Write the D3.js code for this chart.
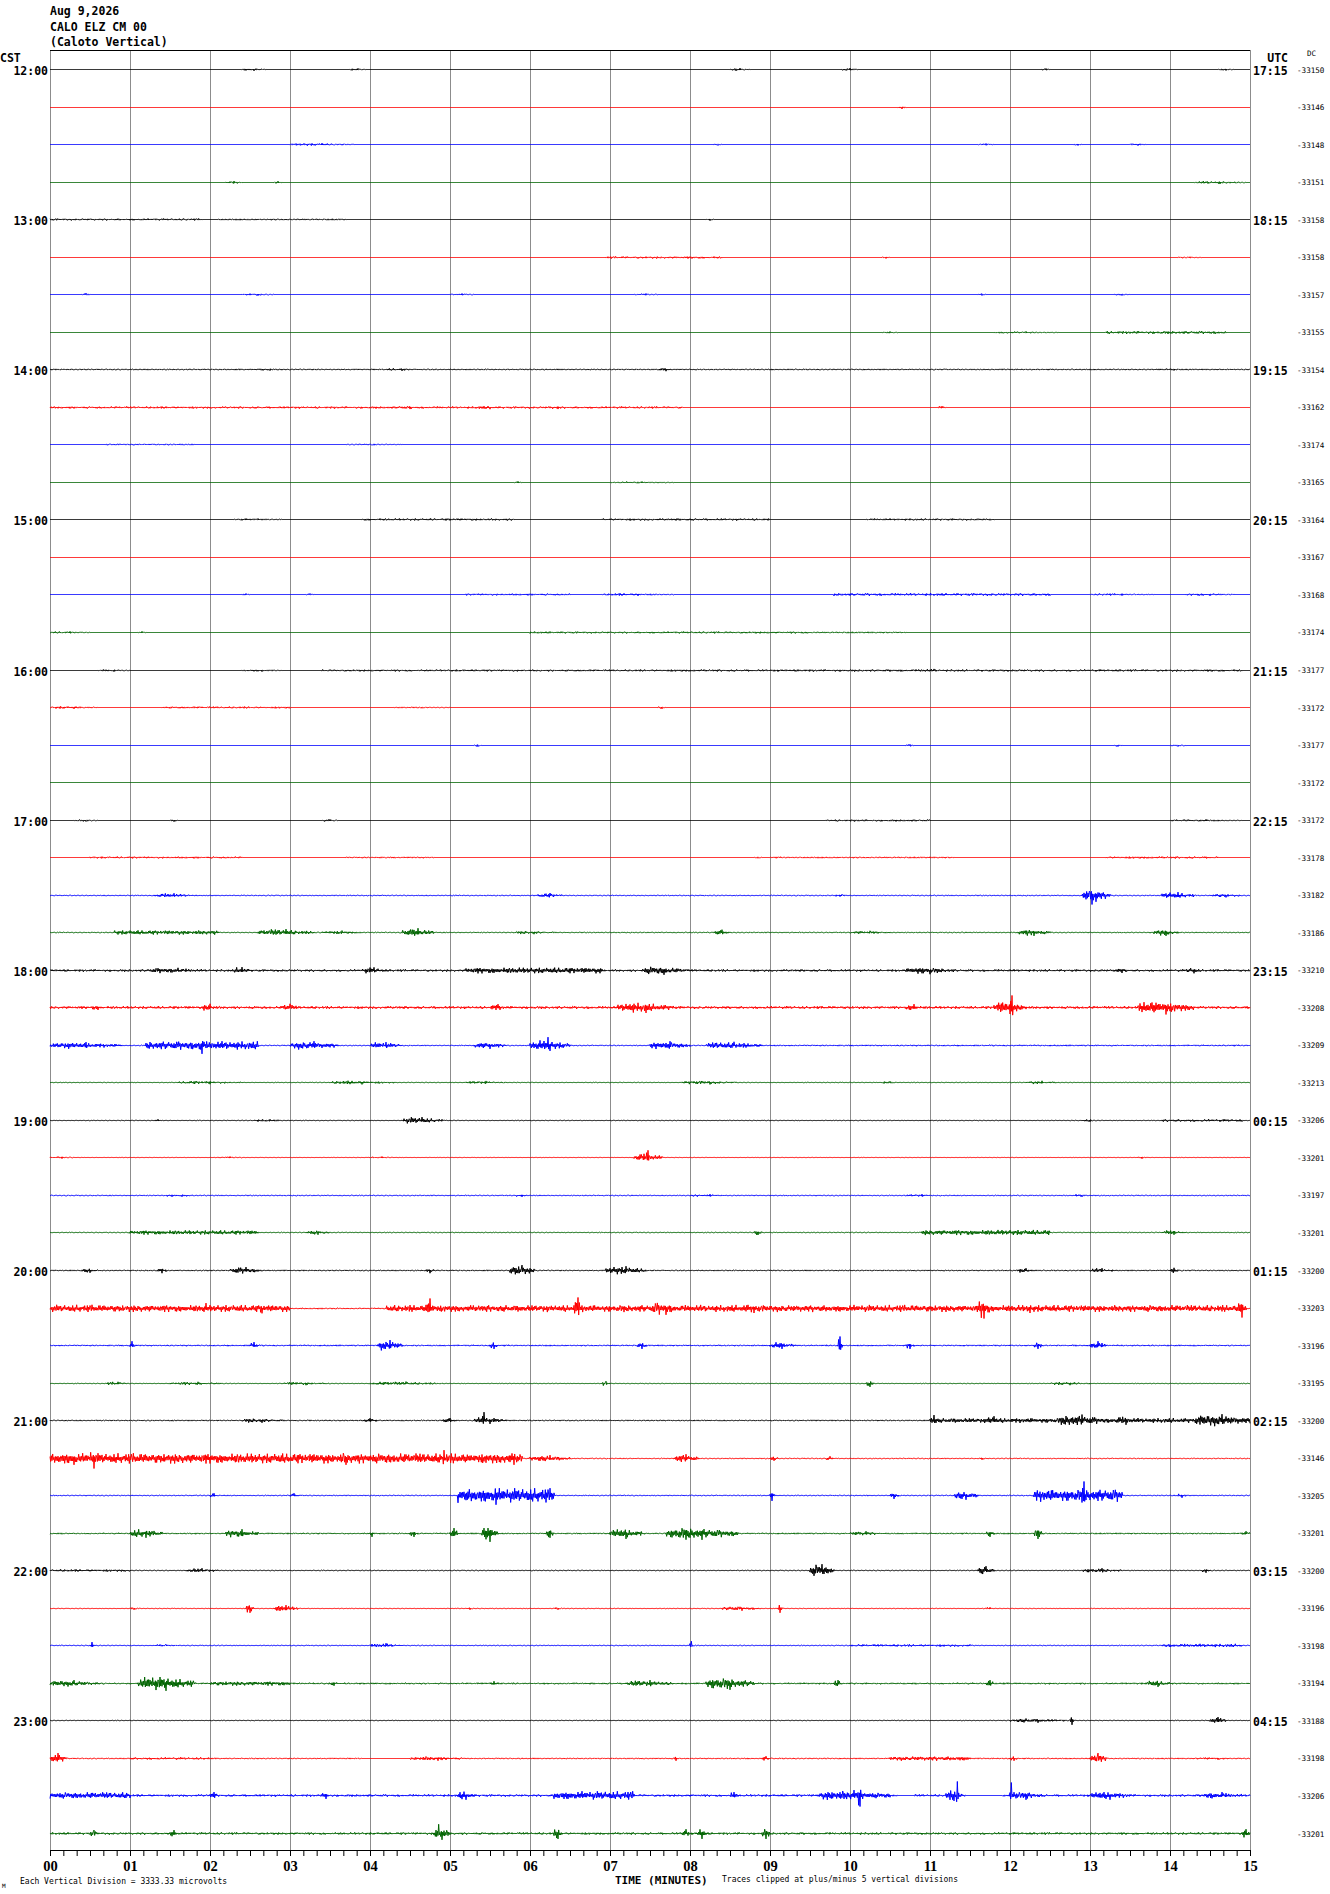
<!DOCTYPE html>
<html>
<head>
<meta charset="utf-8">
<script src="https://cdn.jsdelivr.net/npm/d3@7"></script>
<style>
body { margin: 0; background: #fff; }
text { fill: #000; }
</style>
</head>
<body>
<div class="chart"></div>
<script>
// header text
const titleLines = ['Aug 9,2026', 'CALO ELZ CM 00', '(Caloto Vertical)'];

// hour labels, one for every 4 traces
const cstLabels = ['12:00', '13:00', '14:00', '15:00', '16:00', '17:00',
    '18:00', '19:00', '20:00', '21:00', '22:00', '23:00'];
const utcLabels = ['17:15', '18:15', '19:15', '20:15', '21:15', '22:15',
    '23:15', '00:15', '01:15', '02:15', '03:15', '04:15'];

// minutes along the bottom
const minuteTicks = d3.range(0, 16);

// dc offset printed at the right of each trace
const dcValues = [
    -33150, -33146, -33148, -33151, -33158, -33158, -33157, -33155,
    -33154, -33162, -33174, -33165, -33164, -33167, -33168, -33174,
    -33177, -33172, -33177, -33172, -33172, -33178, -33182, -33186,
    -33210, -33208, -33209, -33213, -33206, -33201, -33197, -33201,
    -33200, -33203, -33196, -33195, -33200, -33146, -33205, -33201,
    -33200, -33196, -33198, -33194, -33188, -33198, -33206, -33201];

// background noise of each trace (microvolts)
const noiseLevel = [
    0, 0, 0, 0, 0, 0, 0, 0,
    60, 0, 0, 0, 0, 0, 0, 0,
    0, 0, 0, 0, 0, 0, 50, 50,
    110, 130, 50, 30, 30, 20, 50, 40,
    60, 70, 70, 30, 60, 50, 50, 70,
    40, 30, 40, 80, 30, 60, 110, 110];

// bursts on each trace: [start minute, end minute, peak microvolts]
const bursts = [
    [[2.4, 2.7, 120], [3.75, 3.95, 100], [8.5, 8.75, 120], [9.9, 10.1, 120], [12.4, 12.5, 90], [14.6, 14.8, 90]],
    [[10.6, 10.7, 130]],
    [[3.0, 3.8, 120], [8.3, 8.4, 90], [11.6, 11.8, 90], [12.8, 12.9, 90], [13.5, 13.7, 100]],
    [[2.2, 2.4, 130], [2.8, 2.9, 120], [14.3, 14.95, 130]],
    [[0, 1.9, 90], [2.1, 3.7, 70], [8.2, 8.3, 100]],
    [[6.95, 8.4, 100], [10.4, 10.5, 90], [14.1, 14.4, 70]],
    [[0.4, 0.5, 120], [2.4, 2.8, 100], [5.0, 5.3, 90], [7.3, 7.6, 90], [11.6, 11.7, 90], [13.3, 13.5, 90]],
    [[10.4, 10.6, 90], [11.8, 12.6, 100], [13.2, 14.7, 130]],
    [[2.5, 3.0, 100], [4.2, 4.6, 120], [7.6, 7.8, 150], [13.8, 14.3, 90]],
    [[0, 7.9, 100], [4.3, 4.7, 140], [5.3, 5.7, 150], [6.2, 6.5, 140], [11.1, 11.2, 120]],
    [[0.7, 1.8, 70], [3.7, 4.4, 70]],
    [[5.8, 5.9, 100], [7.0, 7.8, 90]],
    [[2.3, 2.9, 90], [3.9, 5.8, 100], [6.9, 9.0, 100], [10.2, 11.8, 90]],
    [],
    [[2.4, 2.5, 90], [3.2, 3.3, 90], [5.2, 6.5, 90], [6.9, 7.8, 120], [9.8, 12.5, 120], [13.0, 13.8, 100], [14.2, 14.8, 120]],
    [[0, 0.5, 100], [1.1, 1.2, 100], [6.0, 9.5, 90], [9.0, 10.7, 70]],
    [[0.6, 1.0, 100], [2.4, 2.9, 100], [3.4, 7.5, 90], [7.5, 14.9, 100], [10.8, 11.3, 140]],
    [[0, 0.6, 120], [1.4, 3.0, 90], [4.3, 5.0, 70], [7.6, 7.7, 120]],
    [[5.3, 5.4, 100], [10.7, 10.8, 100], [13.3, 13.4, 90], [14.0, 14.2, 90]],
    [],
    [[0.3, 0.6, 90], [1.5, 1.6, 100], [3.4, 3.6, 100], [9.7, 11.0, 90], [14.0, 14.9, 100]],
    [[0.5, 2.4, 90], [3.7, 4.8, 70], [8.8, 8.9, 70], [9.0, 11.3, 70], [13.2, 14.6, 100]],
    [[1.3, 1.8, 200], [6.1, 6.4, 220], [9.8, 10.0, 110], [12.9, 13.25, 560], [13.0, 13.05, 800], [13.9, 14.3, 300], [14.5, 14.9, 170]],
    [[0.8, 2.1, 200], [2.6, 3.3, 300], [3.4, 3.9, 170], [4.4, 4.8, 380], [5.8, 6.3, 150], [8.3, 8.5, 250], [10.0, 10.5, 150], [12.1, 12.5, 300], [13.8, 14.1, 300]],
    [[1.2, 2.0, 240], [2.3, 2.5, 300], [3.9, 4.2, 280], [5.2, 6.9, 270], [7.4, 7.95, 380], [10.7, 11.3, 330], [13.3, 13.5, 220], [14.2, 14.4, 250]],
    [[0.5, 0.7, 220], [1.9, 2.1, 330], [2.9, 3.1, 330], [5.5, 5.7, 300], [7.1, 7.8, 480], [10.7, 10.9, 300], [11.8, 12.2, 580], [12.0, 12.05, 1070], [13.6, 14.3, 620]],
    [[0, 0.9, 300], [1.2, 2.6, 380], [1.85, 1.95, 740], [3.0, 3.6, 380], [4.0, 4.4, 300], [5.3, 5.7, 300], [6.0, 6.5, 480], [6.2, 6.25, 740], [7.5, 8.0, 380], [8.2, 8.9, 330], [9.0, 15, 70]],
    [[1.6, 2.4, 150], [3.5, 4.3, 170], [5.2, 5.7, 140], [7.9, 8.6, 170], [10.4, 10.6, 110], [12.2, 12.6, 150]],
    [[1.3, 1.4, 110], [2.5, 3.0, 110], [4.4, 4.9, 300], [12.9, 13.1, 110], [13.9, 14.9, 120]],
    [[0, 0.3, 100], [2.1, 2.4, 90], [4.0, 4.3, 90], [7.3, 7.65, 380], [7.45, 7.5, 640], [13.6, 13.7, 110]],
    [[1.4, 1.9, 110], [5.8, 6.0, 120], [8.0, 8.5, 120], [10.7, 11.1, 120], [12.8, 13.0, 120]],
    [[1.0, 2.6, 200], [3.2, 3.5, 200], [8.8, 8.9, 220], [10.9, 12.5, 240], [13.9, 14.2, 200]],
    [[0.4, 0.6, 200], [1.35, 1.45, 240], [2.25, 2.65, 300], [4.7, 4.8, 240], [5.75, 6.05, 480], [6.95, 7.45, 380], [12.1, 12.3, 200], [13.0, 13.3, 200], [14.0, 14.1, 240]],
    [[0, 3.0, 330], [1.9, 2.0, 480], [2.6, 2.7, 430], [4.2, 14.95, 320], [4.7, 4.8, 890], [6.55, 6.65, 980], [7.5, 7.9, 560], [8.6, 9.0, 400], [11.6, 11.75, 890], [12.2, 12.3, 400], [14.85, 14.95, 800]],
    [[1.0, 1.05, 380], [2.5, 2.6, 300], [4.1, 4.4, 480], [5.5, 5.6, 300], [7.35, 7.45, 300], [9.0, 9.3, 300], [9.85, 9.9, 800], [10.7, 10.8, 300], [12.3, 12.4, 300], [13.0, 13.2, 380]],
    [[0.7, 1.0, 150], [1.5, 2.2, 150], [2.9, 3.5, 150], [4.0, 4.9, 170], [6.9, 7.0, 200], [10.2, 10.3, 300], [12.5, 13.0, 150]],
    [[2.4, 2.9, 200], [3.9, 4.1, 200], [4.9, 5.1, 220], [5.3, 5.7, 300], [5.4, 5.45, 740], [11.0, 15.0, 220], [11.0, 11.1, 480], [11.7, 11.9, 380], [12.6, 13.2, 530], [13.3, 13.6, 380], [14.3, 15.0, 560]],
    [[0, 5.9, 470], [0, 0.6, 560], [0.5, 0.6, 890], [3.6, 3.8, 560], [4.9, 4.95, 740], [5.7, 5.9, 560], [6.0, 6.5, 300], [7.8, 8.1, 380], [9.0, 9.1, 200], [9.7, 9.8, 200], [11.6, 11.7, 110]],
    [[2.0, 2.1, 200], [3.0, 3.1, 200], [5.1, 6.3, 650], [5.55, 5.6, 820], [9.0, 9.05, 480], [10.5, 10.6, 300], [11.3, 11.6, 380], [12.3, 13.4, 560], [12.9, 12.95, 1245], [14.1, 14.2, 200]],
    [[1.0, 1.4, 380], [2.2, 2.6, 380], [4.0, 4.05, 300], [4.5, 4.6, 300], [5.0, 5.1, 480], [5.4, 5.6, 740], [6.2, 6.3, 380], [7.0, 7.4, 480], [7.7, 8.6, 560], [10.0, 10.4, 200], [11.7, 11.8, 300], [12.3, 12.4, 480], [14.9, 15.0, 200]],
    [[0, 1.0, 110], [1.7, 2.1, 200], [9.5, 9.8, 560], [11.6, 11.8, 380], [12.9, 13.4, 200], [14.4, 14.5, 200]],
    [[1.0, 1.1, 110], [2.45, 2.55, 380], [2.8, 3.1, 300], [5.2, 5.3, 110], [6.3, 6.4, 110], [8.4, 8.9, 200], [9.1, 9.15, 380], [11.7, 11.8, 110]],
    [[0.5, 0.55, 300], [1.3, 1.6, 110], [4.0, 4.4, 200], [8.0, 8.03, 380], [10.0, 11.5, 110], [13.9, 14.9, 150]],
    [[0, 0.6, 300], [1.1, 1.8, 650], [2.0, 3.0, 200], [3.5, 3.6, 200], [5.5, 5.6, 200], [7.2, 7.8, 300], [8.2, 8.8, 560], [9.8, 9.9, 300], [11.7, 11.8, 300], [13.7, 14.0, 300]],
    [[12.0, 12.7, 200], [12.75, 12.8, 380], [14.5, 14.7, 300]],
    [[0, 0.2, 480], [1.0, 2.0, 110], [4.5, 5.2, 200], [7.8, 7.85, 200], [8.9, 9.0, 200], [10.5, 11.5, 200], [12.0, 12.1, 200], [13.0, 13.2, 480], [14.3, 14.9, 110]],
    [[0, 1.0, 300], [2.0, 2.1, 300], [3.4, 3.5, 300], [5.1, 5.3, 380], [6.3, 7.3, 380], [8.5, 8.6, 300], [9.6, 10.5, 480], [10.1, 10.15, 980], [11.2, 11.4, 480], [11.33, 11.36, 1245], [12.0, 12.03, 1150], [12.0, 12.4, 380], [13.0, 13.5, 380], [14.4, 14.9, 300]],
    [[0.5, 0.6, 300], [1.5, 1.6, 300], [4.8, 5.0, 560], [4.84, 4.88, 820], [6.3, 6.4, 480], [7.9, 8.0, 380], [8.1, 8.2, 480], [8.9, 9.0, 480], [14.9, 15.0, 380]]
];

// stretches where a trace goes flat: [trace, start minute, end minute]
const flatSpans = [[45, 3.9, 4.5], [46, 10.6, 10.8], [46, 11.45, 11.9]];

// hand-read wiggle shape and spike heights used as the noise texture
const wiggle = [0.5, -0.8, 1, -0.4, 0.7, -1, 0.6, -0.5, 0.9, -0.7, 0.35, -0.95, 0.8,
    -0.45, 1, -0.6, 0.4, -0.85, 0.65, -0.3, 0.9, -0.75, 0.55, -1, 0.3, -0.5, 0.85,
    -0.65, 0.45, -0.9, 0.7, -0.35, 1, -0.55, 0.4, -0.8, 0.6, -0.95, 0.75, -0.4,
    0.9, -0.25, 0.5, -0.85, 0.95, -0.5, 0.3, -0.7, 0.8, -1, 0.45, -0.6, 0.9];
const spikeHeight = [1, 0.6, 0.85, 0.45, 0.95, 0.55, 0.7, 0.4, 0.9, 0.6, 0.5, 1,
    0.65, 0.4, 0.8, 0.55, 0.95, 0.45, 0.75, 0.6, 0.4, 0.85, 0.5];
// envelope of a short burst, onset to decay
const burstShape = [0.5, 0.9, 1, 0.9, 0.8, 0.7, 0.6, 0.5, 0.45];

const microvoltsPerDivision = 3333.33;
const traceColors = ['#000000', '#ff0000', '#0000ff', '#006400'];

// chart frame
const margin = ({top: 50, right: 80, bottom: 44, left: 50});
const fullWidth = 1330;
const fullHeight = 1894;
const width = fullWidth - margin.left - margin.right;
const height = fullHeight - margin.top - margin.bottom;

const svg = d3.select('.chart')
    .append('svg')
    .attr('width', fullWidth)
    .attr('height', fullHeight)
    .style('display', 'block')
    .style('background', '#fff');

const plot = svg.append('g')
    .attr('transform', `translate(${margin.left},${margin.top})`);

const xScale = d3.scaleLinear()
    .domain([0, 15])
    .range([0, width]);

const rowScale = d3.scalePoint()
    .domain(d3.range(dcValues.length))
    .range([19, 1783]);

// one vertical division is the gap between traces
const ampScale = d3.scaleLinear()
    .domain([-microvoltsPerDivision, microvoltsPerDivision])
    .range([rowScale.step(), -rowScale.step()]);

const shapeScale = d3.scaleLinear()
    .domain(d3.range(burstShape.length).map(d => d / (burstShape.length - 1)))
    .range(burstShape);

// minute grid
plot.selectAll('.grid')
    .data(minuteTicks)
    .enter()
    .append('line')
    .attr('class', 'grid')
    .attr('x1', d => Math.round(xScale(d)) + 0.5)
    .attr('x2', d => Math.round(xScale(d)) + 0.5)
    .attr('y1', 0)
    .attr('y2', height)
    .attr('stroke', '#8c8c8c')
    .attr('stroke-width', 1);

// build one trace from its noise level and bursts
function traceSamples(i) {
    const perMinute = 120;
    const clip = 5 * microvoltsPerDivision;
    const samples = [];
    for (let k = 0; k <= 15 * perMinute; k++) {
        const m = k / perMinute;
        let env = noiseLevel[i];
        let peak = 0;
        bursts[i].forEach(b => {
            if (m >= b[0] && m <= b[1]) {
                const len = b[1] - b[0];
                const f = len < 1 ? shapeScale((m - b[0]) / len) : 1;
                env = Math.max(env, b[2] * f);
                // the read peak sits at the middle of a short burst
                if (len < 1 && k === Math.round((b[0] + b[1]) / 2 * perMinute)) {
                    peak = Math.max(peak, b[2]);
                }
            }
        });
        flatSpans.forEach(f => {
            if (f[0] === i && m >= f[1] && m <= f[2]) env = 0;
        });
        const w = wiggle[(k + i * 11) % wiggle.length];
        let v = env * w * spikeHeight[(k * 5 + i * 3) % spikeHeight.length];
        if (peak > 0) v = Math.sign(w) * peak;
        samples.push({m: m, v: Math.max(-clip, Math.min(clip, v))});
    }
    return samples;
}

plot.selectAll('.trace')
    .data(d3.range(dcValues.length))
    .enter()
    .append('path')
    .attr('class', 'trace')
    .attr('fill', 'none')
    .attr('stroke', i => traceColors[i % 4])
    .attr('stroke-width', 1)
    .attr('d', i => {
        const y0 = Math.round(rowScale(i)) + 0.5;
        return d3.line()
            .x(d => xScale(d.m))
            .y(d => y0 + ampScale(d.v))(traceSamples(i));
    });

// top border
plot.append('line')
    .attr('x1', 0)
    .attr('x2', width)
    .attr('y1', 0.5)
    .attr('y2', 0.5)
    .attr('stroke', '#000')
    .attr('stroke-width', 1);

// bottom time axis, a tick every 10 seconds
const xAxis = d3.axisBottom(xScale)
    .tickValues(d3.range(0, 15 * 6 + 1).map(d => d / 6))
    .tickSize(6)
    .tickSizeOuter(0)
    .tickPadding(5)
    .tickFormat(d => (d % 1 === 0 ? d3.format('02d')(d) : ''));

const axisG = plot.append('g')
    .attr('class', 'axis x-axis')
    .attr('transform', `translate(0,${height})`)
    .call(xAxis);

axisG.selectAll('path, line')
    .attr('stroke', '#000')
    .attr('stroke-width', 1);
axisG.selectAll('text')
    .attr('font-family', '"Liberation Serif", serif')
    .attr('font-weight', 'bold')
    .attr('font-size', 14.5);

const monoBold = '"DejaVu Sans Mono", monospace';

// header
svg.selectAll('.title')
    .data(titleLines)
    .enter()
    .append('text')
    .attr('class', 'title')
    .attr('x', 50)
    .attr('y', (d, i) => 15 + i * 15.5)
    .attr('font-family', monoBold)
    .attr('font-weight', 'bold')
    .attr('font-size', 11.5)
    .text(d => d);

svg.append('text')
    .attr('x', 0)
    .attr('y', 62)
    .attr('font-family', monoBold)
    .attr('font-weight', 'bold')
    .attr('font-size', 11.5)
    .text('CST');

svg.append('text')
    .attr('x', 1288)
    .attr('y', 62)
    .attr('text-anchor', 'end')
    .attr('font-family', monoBold)
    .attr('font-weight', 'bold')
    .attr('font-size', 11.5)
    .text('UTC');

svg.append('text')
    .attr('x', 1307)
    .attr('y', 56)
    .attr('font-family', monoBold)
    .attr('font-size', 7.5)
    .text('DC');

// hour labels on both sides
svg.selectAll('.cst')
    .data(cstLabels)
    .enter()
    .append('text')
    .attr('class', 'cst')
    .attr('x', 48)
    .attr('y', (d, i) => margin.top + rowScale(i * 4) + 6)
    .attr('text-anchor', 'end')
    .attr('font-family', monoBold)
    .attr('font-weight', 'bold')
    .attr('font-size', 11.5)
    .text(d => d);

svg.selectAll('.utc')
    .data(utcLabels)
    .enter()
    .append('text')
    .attr('class', 'utc')
    .attr('x', 1253)
    .attr('y', (d, i) => margin.top + rowScale(i * 4) + 6)
    .attr('font-family', monoBold)
    .attr('font-weight', 'bold')
    .attr('font-size', 11.5)
    .text(d => d);

svg.selectAll('.dc')
    .data(dcValues)
    .enter()
    .append('text')
    .attr('class', 'dc')
    .attr('x', 1297)
    .attr('y', (d, i) => margin.top + rowScale(i) + 3.5)
    .attr('font-family', monoBold)
    .attr('font-size', 7.6)
    .text(d => d);

// footer notes
svg.append('text')
    .attr('x', 2)
    .attr('y', 1888)
    .attr('font-family', monoBold)
    .attr('font-size', 6)
    .text('M');

svg.append('text')
    .attr('x', 20)
    .attr('y', 1884)
    .attr('font-family', monoBold)
    .attr('font-size', 8)
    .text('Each Vertical Division = 3333.33 microvolts');

svg.append('text')
    .attr('x', 615)
    .attr('y', 1884)
    .attr('font-family', monoBold)
    .attr('font-weight', 'bold')
    .attr('font-size', 11)
    .text('TIME (MINUTES)');

svg.append('text')
    .attr('x', 722)
    .attr('y', 1882)
    .attr('font-family', monoBold)
    .attr('font-size', 8)
    .text('Traces clipped at plus/minus 5 vertical divisions');
</script>
</body>
</html>
